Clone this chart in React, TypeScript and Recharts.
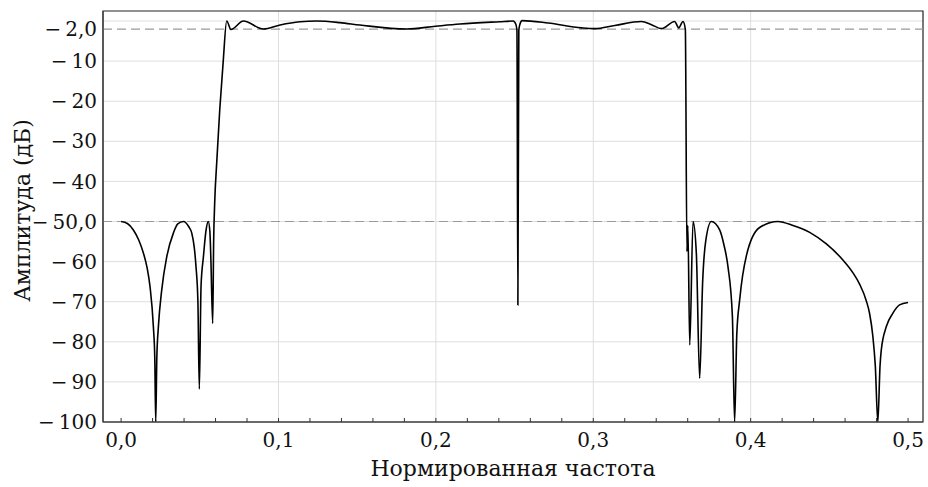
import { LineChart, Line, XAxis, YAxis, CartesianGrid, ReferenceLine, ReferenceArea, Label } from 'recharts';

const freqs = [
  0.0, 0.004, 0.0078, 0.0112, 0.0142, 0.0165, 0.0184, 0.0205, 0.0214, 0.022, 0.0227, 0.0237, 0.0258, 0.029,
  0.0332, 0.036, 0.0396, 0.043, 0.0449, 0.0465, 0.0476, 0.0488, 0.0497, 0.0508, 0.0523, 0.054, 0.0554, 0.0564,
  0.057, 0.0582, 0.0588, 0.0595, 0.0608, 0.0627, 0.0648, 0.0671,
  0.0698, 0.0777, 0.0904, 0.101, 0.1137, 0.1243, 0.139, 0.1517, 0.1814, 0.1998, 0.2152, 0.2406, 0.2491,
  0.2508, 0.2515, 0.2521, 0.2527, 0.2534, 0.2548, 0.2713, 0.2925, 0.301, 0.3137, 0.3306, 0.337, 0.3433,
  0.3517, 0.3543, 0.357, 0.3585, 0.3595, 0.3601, 0.3613, 0.3634, 0.3655, 0.3676, 0.3695, 0.3714, 0.375, 0.3803,
  0.383, 0.3856, 0.3884, 0.3898, 0.3912, 0.393, 0.3973, 0.4057, 0.4173, 0.4269, 0.4375, 0.4481, 0.4586, 0.465,
  0.4692, 0.4735, 0.4756, 0.4776, 0.4792, 0.4808, 0.4822, 0.483, 0.4862, 0.4903, 0.4946, 0.5,
];

const amplitudes = [
  -50.0, -50.5, -52.1, -54.6, -57.9, -61.5, -66.3, -76.2, -84.0, -100, -84.0, -76.2, -67.1, -58.8,
  -52.9, -50.6, -50.0, -51.3, -52.9, -56.5, -61.3, -70.0, -91.8, -66.0, -58.8, -52.1, -50.0, -52.5,
  -58.8, -75.4, -55.0, -45.0, -35.0, -22.0, -10.5, 0.0,
  -2.1, 0.0, -2.0, -1.0, -0.2, 0.0, -0.4, -1.0, -2.0, -1.3, -0.75, -0.17, 0.0,
  -0.8, -2.3, -70.8, -2.3, -0.8, 0.1, -0.5, -1.7, -1.9, -1.1, -0.1, -0.9, -1.9,
  -0.1, -1.7, -0.1, -2.0, -57.5, -51.0, -80.8, -50.0, -58.0, -89.1, -65.0, -55.0, -50.0, -52.1,
  -55.8, -61.3, -73.7, -100, -78.0, -69.6, -58.5, -51.5, -50.0, -51.0, -52.7, -55.6, -59.6, -62.8,
  -65.6, -69.8, -73.0, -78.5, -86.0, -100, -86.0, -82.0, -76.2, -72.9, -70.8, -70.2,
];

const xTicks = [0, 0.02, 0.04, 0.06, 0.08, 0.1, 0.12, 0.14, 0.16, 0.18, 0.2, 0.22, 0.24, 0.26, 0.28, 0.3,
  0.32, 0.34, 0.36, 0.38, 0.4, 0.42, 0.44, 0.46, 0.48, 0.5];
const xLabelTicks = [0, 0.1, 0.2, 0.3, 0.4, 0.5];
const yTicks = [-100, -90, -80, -70, -60, -50, -40, -30, -20, -10, -2];
const yGrid = [0, -10, -20, -30, -40, -50, -60, -70, -80, -90];
const xGrid = [0.1, 0.2, 0.3, 0.4];
const thresholds = [-2, -50];

const xDomain: [number, number] = [-0.0115, 0.5095];
const yDomain: [number, number] = [-100, 2.5];

const data = freqs.map((f, i) => ({ f, a: amplitudes[i] }));

const FONT = '"DejaVu Serif", serif';
const FS = 20;
const TITLE_FS = 22;

const fmtY = (v: number) => {
  const s = v === -2 || v === -50 ? Math.abs(v).toFixed(1).replace('.', ',') : String(Math.abs(v));
  return '\u2212\u2009' + s;
};

const XTick = (props: any) => {
  const { x, y, payload } = props;
  const v = payload.value;
  const major = xLabelTicks.some((t) => Math.abs(t - v) < 1e-6);
  return (
    <g>
      <line x1={x} x2={x} y1={y} y2={y - 4} stroke="#333" strokeWidth={1} />
      {major && (
        <text x={x} y={y + 25} textAnchor="middle" fontFamily={FONT} fontSize={FS} fill="#111">
          {v.toFixed(1).replace('.', ',')}
        </text>
      )}
    </g>
  );
};

export default function App() {
  return (
    <div style={{ position: 'absolute', left: 0, top: 0, background: '#fff' }}>
      <LineChart width={928} height={487} data={data} margin={{ top: 11, right: 5, left: 0, bottom: 0 }}>
        <CartesianGrid horizontalValues={yGrid} verticalValues={xGrid} stroke="#dedede" strokeWidth={1} />
        <XAxis
          dataKey="f"
          type="number"
          domain={xDomain}
          ticks={xTicks}
          interval={0}
          allowDataOverflow
          height={65}
          tickSize={0}
          tickMargin={0}
          tickLine={false}
          axisLine={{ stroke: '#444', strokeWidth: 1.2 }}
          tick={<XTick />}
        >
          <Label
            content={(p: any) => {
              const vb = p.viewBox;
              return (
                <text x={vb.x + vb.width / 2} y={vb.y + 54} textAnchor="middle" fontFamily={FONT} fontSize={TITLE_FS} fill="#111">
                  Нормированная частота
                </text>
              );
            }}
          />
        </XAxis>
        <YAxis
          type="number"
          domain={yDomain}
          ticks={yTicks}
          interval={0}
          allowDataOverflow
          width={103}
          tickSize={0}
          tickMargin={6}
          tickLine={false}
          tickFormatter={fmtY}
          tick={{ fontFamily: FONT, fontSize: FS, fill: '#111' }}
          axisLine={{ stroke: '#444', strokeWidth: 1.2 }}
        >
          <Label
            content={(p: any) => {
              const vb = p.viewBox;
              const cx = vb.x + 22;
              const cy = vb.y + vb.height / 2 - 6;
              return (
                <text
                  x={cx}
                  y={cy}
                  transform={`rotate(-90 ${cx} ${cy})`}
                  textAnchor="middle"
                  dominantBaseline="central"
                  fontFamily={FONT}
                  fontSize={TITLE_FS}
                  fill="#111"
                >
                  Амплитуда (дБ)
                </text>
              );
            }}
          />
        </YAxis>
        <ReferenceArea x1={xDomain[0]} x2={xDomain[1]} y1={yDomain[0]} y2={yDomain[1]} fill="none" stroke="#222" strokeWidth={1.2} />
        {thresholds.map((t) => (
          <ReferenceLine key={t} y={t} stroke="#999" strokeWidth={1.2} strokeDasharray="9 5" />
        ))}
        <Line
          type="monotone"
          dataKey="a"
          stroke="#000"
          strokeWidth={1.6}
          dot={false}
          isAnimationActive={false}
        />
      </LineChart>
    </div>
  );
}
